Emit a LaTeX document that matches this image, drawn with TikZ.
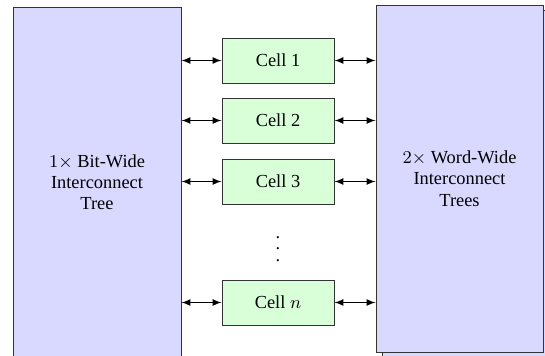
\documentclass[tikz,border=0pt]{standalone}
\usepackage{fontspec}
\setmainfont{Liberation Serif}
\usetikzlibrary{arrows}
\begin{document}
\begin{tikzpicture}[x=0.5pt,y=-0.5pt,
  font=\fontsize{9.2}{10.6}\selectfont,
  bigbox/.style={draw=black!80,line width=0.5pt,fill=blue!15,align=center,inner sep=0pt},
  cellbox/.style={draw=black!80,line width=0.5pt,fill=green!15,minimum width=56pt,minimum height=22.5pt,inner sep=0pt},
  arr/.style={latex-latex,line width=0.55pt,black}]
\useasboundingbox (0,0) rectangle (545,355);
\clip (0,0) rectangle (545,355);
\node[bigbox,minimum width=84pt,minimum height=175pt] (L) at (97,182) {$1\times$ Bit-Wide\\Interconnect\\Tree};
\node[bigbox,minimum width=83.5pt,minimum height=173.5pt] (Rs) at (465.5,184) {};
\node[bigbox,minimum width=83.5pt,minimum height=173.5pt] (R) at (459.5,178.5) {$2\times$ Word-Wide\\Interconnect\\Trees};
\node[cellbox] (c1) at (278,60.5) {Cell 1};
\node[cellbox] (c2) at (278,120.5) {Cell 2};
\node[cellbox] (c3) at (278,181.5) {Cell 3};
\node[cellbox] (cn) at (278,302.5) {Cell $n$};
\node[inner sep=0pt] (dots) at (278,249) {\vbox{\baselineskip=5.8pt\lineskiplimit=0pt\hbox{.}\hbox{.}\hbox{.}}};
\foreach \c in {c1,c2,c3,cn}{
  \draw[arr] (L.east |- \c) -- (\c.west);
  \draw[arr] (\c.east) -- (R.west |- \c);
}
\end{tikzpicture}
\end{document}
